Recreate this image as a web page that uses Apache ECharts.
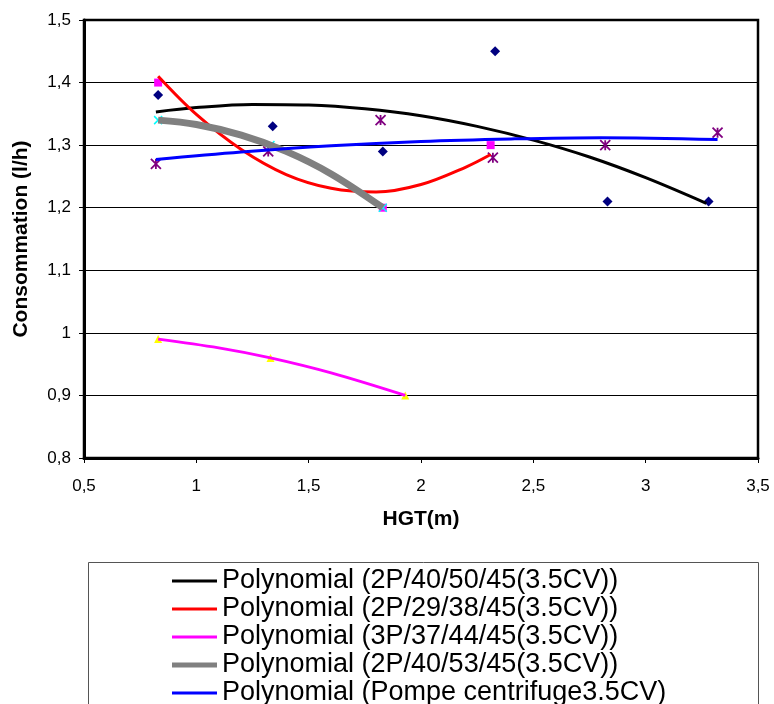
<!DOCTYPE html>
<html><head><meta charset="utf-8">
<script src="https://cdn.jsdelivr.net/npm/echarts@6/dist/echarts.min.js"></script>
<style>html,body{margin:0;padding:0;background:#fff}#c{width:774px;height:704px}</style>
</head><body><div id="c"></div>
<script>
// ---- measured points ----
const s1X = [0.83, 1.34, 1.83, 2.33, 2.83, 3.28];
const s1Y = [1.38, 1.33, 1.29, 1.45, 1.21, 1.21];
const s2X = [0.83, 1.83, 2.31];
const s2Y = [1.40, 1.20, 1.30];
const s3X = [0.83, 1.33, 1.93];
const s3Y = [0.99, 0.96, 0.90];
const s4X = [0.83, 1.33, 1.83];
const s4Y = [1.34, 1.30, 1.20];
const s5X = [0.82, 1.32, 1.82, 2.32, 2.82, 3.32];
const s5Y = [1.27, 1.29, 1.34, 1.28, 1.30, 1.32];
// ---- trend curves ----
const t1X = [0.82, 1.0, 1.25, 1.5, 1.75, 2.0, 2.25, 2.5, 2.75, 3.0, 3.27];
const t1Y = [1.353, 1.360, 1.365, 1.364, 1.358, 1.347, 1.330, 1.308, 1.281, 1.248, 1.207];
const t2X = [0.83, 1.0, 1.2, 1.4, 1.6, 1.8, 2.0, 2.2, 2.31];
const t2Y = [1.41, 1.349, 1.293, 1.253, 1.231, 1.225, 1.237, 1.265, 1.285];
const t3X = [0.83, 1.1, 1.33, 1.6, 1.93];
const t3Y = [0.99, 0.976, 0.96, 0.936, 0.90];
const t4X = [0.83, 1.0, 1.2, 1.4, 1.6, 1.83];
const t4Y = [1.34, 1.333, 1.316, 1.290, 1.254, 1.20];
const t5X = [0.82, 1.2, 1.6, 2.0, 2.4, 2.8, 3.32];
const t5Y = [1.277, 1.289, 1.299, 1.306, 1.310, 1.312, 1.309];

const pointNames = ['2P/40/50/45(3.5CV)', '2P/29/38/45(3.5CV)', '3P/37/44/45(3.5CV)', '2P/40/53/45(3.5CV)', 'Pompe centrifuge3.5CV'];
const trendNames = ['Polynomial (2P/40/50/45(3.5CV))', 'Polynomial (2P/29/38/45(3.5CV))', 'Polynomial (3P/37/44/45(3.5CV))', 'Polynomial (2P/40/53/45(3.5CV))', 'Polynomial (Pompe centrifuge3.5CV)'];

const zip = (a, b) => a.map((v, i) => [v, b[i]]);
const FONT = "'Liberation Sans', Arial, sans-serif";
const comma = v => String(Math.round(v * 10) / 10).replace('.', ',');

const chart = echarts.init(document.getElementById('c'), null, {renderer: 'canvas'});
const trendColors = ['#000000', '#FF0000', '#FF00FF', '#808080', '#0000FF'];
const trendWidths = [3, 3, 3, 7, 3];
const trendData = [zip(t1X, t1Y), zip(t2X, t2Y), zip(t3X, t3Y), zip(t4X, t4Y), zip(t5X, t5Y)];
// legend icons: thin line (3px) or thick line (5px) in a 45x14 box
const thinIcon = 'path://M0,0L0,0M45,14L45,14M0,5.5L45,5.5L45,8.5L0,8.5Z';
const thickIcon = 'path://M0,0L0,0M45,14L45,14M0,4.5L45,4.5L45,9.5L0,9.5Z';

const series = [
  {type: 'scatter', name: pointNames[0], data: zip(s1X, s1Y), symbol: 'diamond', symbolSize: 10, itemStyle: {color: '#000080', opacity: 1}},
  {type: 'scatter', name: pointNames[1], data: zip(s2X, s2Y), symbol: 'rect', symbolSize: 8, itemStyle: {color: '#FF00FF', opacity: 1}},
  {type: 'scatter', name: pointNames[2], data: zip(s3X, s3Y), symbol: 'triangle', symbolSize: 8, itemStyle: {color: '#FFFF00', opacity: 1}},
  {type: 'scatter', name: pointNames[3], data: zip(s4X, s4Y), symbol: 'path://M0,0L10,10M10,0L0,10', symbolSize: 8,
   itemStyle: {color: 'rgba(0,0,0,0)', borderColor: '#00FFFF', borderWidth: 1.5, opacity: 1}},
  {type: 'scatter', name: pointNames[4], data: zip(s5X, s5Y), symbol: 'path://M0,0L10,10M10,0L0,10M5,0L5,10', symbolSize: 10,
   itemStyle: {color: 'rgba(0,0,0,0)', borderColor: '#800080', borderWidth: 1.8, opacity: 1}}
];
trendNames.forEach((n, i) => {
  series.push({type: 'line', name: n, data: trendData[i], smooth: 0.35, symbol: 'none',
    lineStyle: {color: trendColors[i], width: trendWidths[i]}, itemStyle: {color: trendColors[i]}, z: 3});
});

chart.setOption({
  animation: false,
  backgroundColor: '#ffffff',
  textStyle: {fontFamily: FONT},
  grid: {left: 84, right: 16, top: 20, bottom: 246, show: true, borderColor: '#000', borderWidth: 2.5},
  xAxis: {
    type: 'value', min: 0.5, max: 3.5, interval: 0.5,
    name: 'HGT(m)', nameLocation: 'middle', nameGap: 51,
    nameTextStyle: {fontSize: 21, fontWeight: 'bold', color: '#000', fontFamily: FONT},
    axisLine: {show: true, onZero: false, lineStyle: {color: '#000', width: 3}},
    axisTick: {show: true, length: 5, lineStyle: {color: '#000', width: 1}},
    axisLabel: {fontSize: 17, color: '#000', margin: 20, formatter: comma, fontFamily: FONT},
    splitLine: {show: false}
  },
  yAxis: {
    type: 'value', min: 0.8, max: 1.5, interval: 0.1,
    name: 'Consommation (l/h)', nameLocation: 'middle', nameGap: 52, nameRotate: 90,
    nameTextStyle: {fontSize: 21, fontWeight: 'bold', color: '#000', fontFamily: FONT},
    axisLine: {show: true, onZero: false, lineStyle: {color: '#000', width: 3}},
    axisTick: {show: true, length: 5, lineStyle: {color: '#000', width: 1}},
    axisLabel: {fontSize: 17, color: '#000', margin: 13, formatter: comma, fontFamily: FONT},
    splitLine: {show: true, lineStyle: {color: '#000', width: 1}}
  },
  legend: {
    data: trendNames.map((n, i) => ({name: n, icon: i === 3 ? thickIcon : thinIcon, itemStyle: {color: trendColors[i]}})),
    orient: 'vertical', left: 172, top: 567, height: 300, padding: 0,
    itemWidth: 45, itemHeight: 14, itemGap: 0,
    textStyle: {fontSize: 27, lineHeight: 28, color: '#000', fontFamily: FONT},
    selectedMode: false
  },
  graphic: [{
    type: 'rect', left: 88, top: 562, z: -1, silent: true,
    shape: {width: 670, height: 200},
    style: {fill: 'rgba(0,0,0,0)', stroke: '#555', lineWidth: 1}
  }],
  series: series
});
</script>
</body></html>
